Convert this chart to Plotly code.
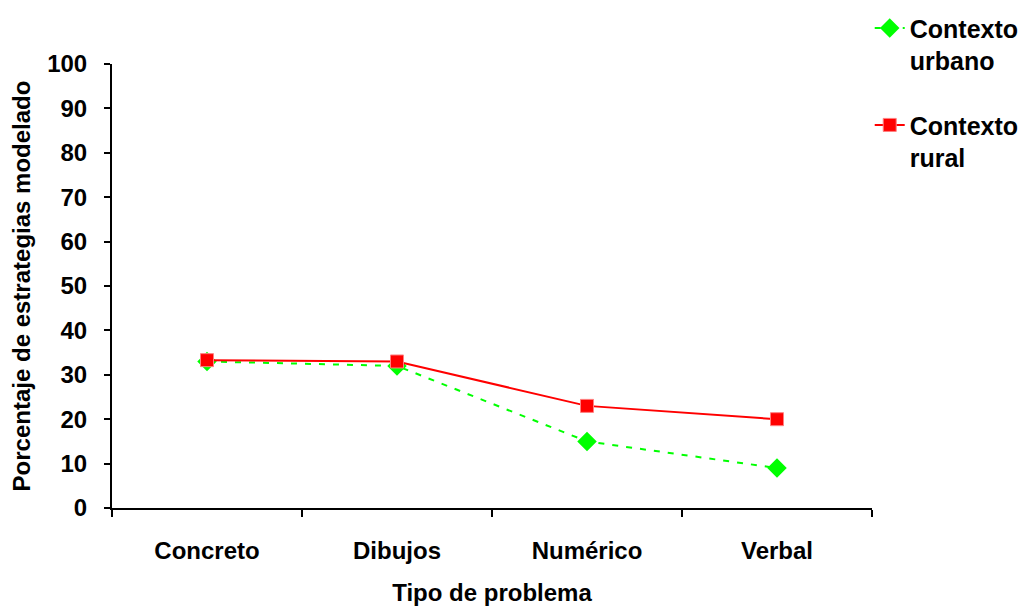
import plotly.graph_objects as go

categories = ["Concreto", "Dibujos", "Numérico", "Verbal"]
urbano = [33, 32, 15, 9]
rural = [33.3, 33, 23, 20]
y_ticks = list(range(0, 101, 10))

FONT = "Arial, 'Liberation Sans', sans-serif"

fig = go.Figure()
fig.add_trace(go.Scatter(
    x=categories, y=urbano, name="Contexto<br>urbano", legendgroup="u",
    mode="lines+markers",
    line=dict(color="#00FF00", width=2, dash="6px,8px"),
    marker=dict(symbol="diamond", size=15, color="#00FF00"),
))
fig.add_trace(go.Scatter(
    x=categories, y=rural, name="Contexto<br>rural", legendgroup="r",
    mode="lines+markers",
    line=dict(color="#FF0000", width=2),
    marker=dict(symbol="square", size=13, color="#FF0000",
                line=dict(color="#FF8080", width=1)),
))

fig.update_layout(
    width=1030, height=606,
    paper_bgcolor="white", plot_bgcolor="white",
    margin=dict(l=112, r=158, t=64, b=98, autoexpand=False),
    font=dict(family=FONT, size=24, color="black", weight="bold"),
    legend=dict(
        x=0.997, y=1.1325, xanchor="left", yanchor="top",
        valign="top", tracegroupgap=29, traceorder="grouped",
        font=dict(family=FONT, size=25, color="black", weight="bold"),
        bgcolor="rgba(0,0,0,0)",
    ),
    xaxis=dict(
        type="category", range=[-0.5, 3.5], automargin=False,
        showline=True, linecolor="black", linewidth=2,
        ticks="outside", tickson="boundaries", ticklen=7, tickwidth=1.5, tickcolor="black",
        showgrid=False, zeroline=False,
        tickfont=dict(family=FONT, size=24, color="black", weight="bold"),
        ticklabelstandoff=20,
        title=dict(text="Tipo de problema", standoff=28,
                   font=dict(family=FONT, size=24, color="black", weight="bold")),
    ),
    yaxis=dict(
        range=[0, 100], tickvals=y_ticks, automargin=False,
        showline=True, linecolor="black", linewidth=2,
        ticks="outside", ticklen=6, tickwidth=1.5, tickcolor="black",
        showgrid=False, zeroline=False,
        tickfont=dict(family=FONT, size=24, color="black", weight="bold"),
        ticklabelstandoff=12,
        title=dict(text="Porcentaje de estrategias modelado", standoff=10,
                   font=dict(family=FONT, size=24, color="black", weight="bold")),
    ),
)

fig.write_html("out.html")
